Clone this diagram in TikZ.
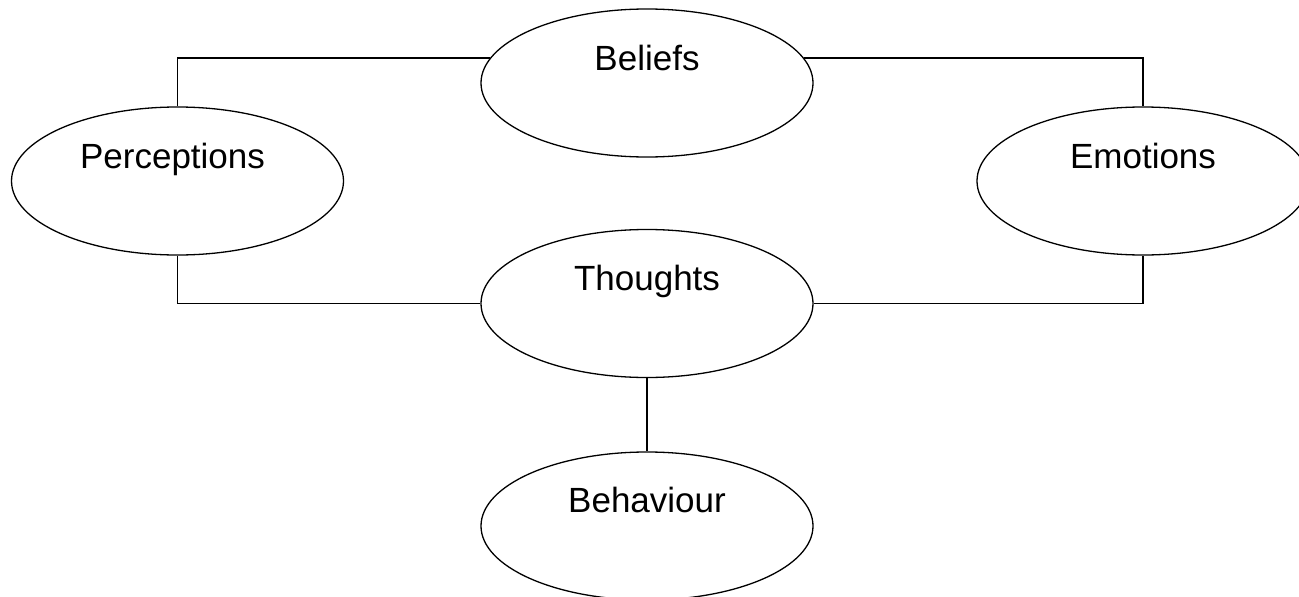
\documentclass[tikz,border=0pt]{standalone}
\usepackage{fontspec}
\setmainfont{Liberation Sans}
\usetikzlibrary{shapes.geometric}
\begin{document}
\begin{tikzpicture}[x=1pt,y=-1pt,
  oval/.style={draw=black, line width=1.3pt, ellipse, minimum width=332pt, minimum height=148pt, inner sep=0pt},
  txt/.style={anchor=base, inner sep=0pt, font=\fontsize{35}{42}\selectfont},
  link/.style={draw=black, line width=1.3pt}]
\path[use as bounding box, fill=white] (0,0) rectangle (1299,597);
\clip (0,0) rectangle (1299,597);
\node[oval] (b) at (647,83) {};
\node[oval] (p) at (177.5,181) {};
\node[oval] (e) at (1143,181) {};
\node[oval] (t) at (647,303.5) {};
\node[oval] (h) at (647,526) {};
\node[txt] (bt) at ([yshift=13pt]b.center) {Beliefs};
\node[txt] (pt) at ([xshift=-5pt,yshift=13pt]p.center) {Perceptions};
\node[txt] (et) at ([yshift=13pt]e.center) {Emotions};
\node[txt] (tt) at ([yshift=13pt]t.center) {Thoughts};
\node[txt] (ht) at ([yshift=14pt]h.center) {Behaviour};
\draw[link] (p.north) |- (b.171);
\draw[link] (b.9) -| (e.north);
\draw[link] (p.south) |- (t.west);
\draw[link] (t.east) -| (e.south);
\draw[link] (t.south) -- (h.north);
\end{tikzpicture}
\end{document}
